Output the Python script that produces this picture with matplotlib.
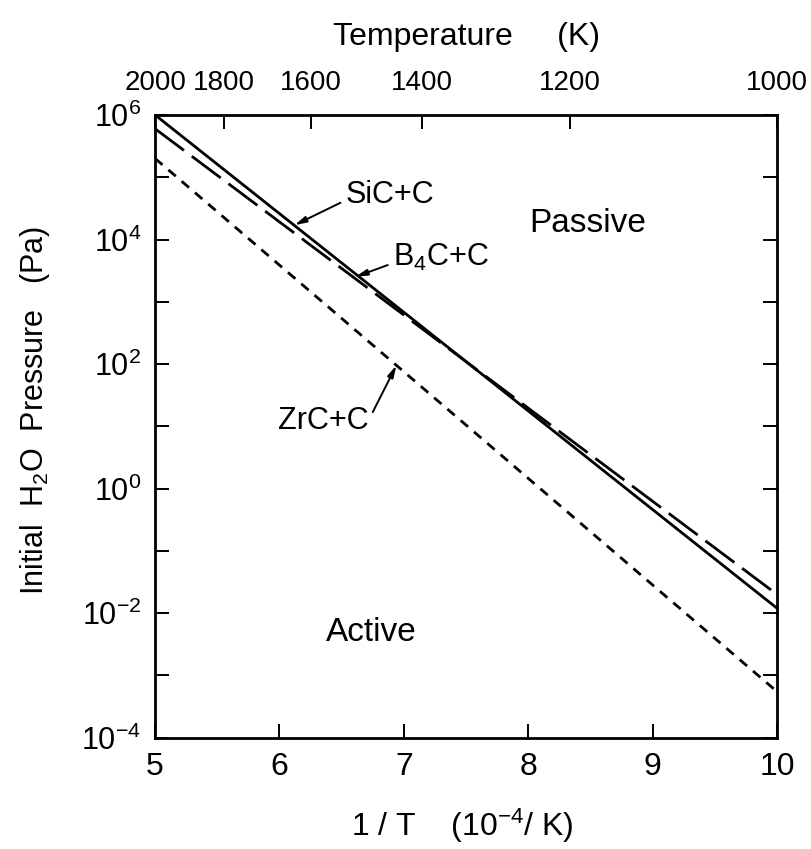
import matplotlib
matplotlib.use("Agg")
import matplotlib.pyplot as plt
import numpy as np

# ---- data ----
inv_T = [5.0, 10.0]                 # 1/T (1e-4 / K)
sic_c = [1.0e6, 1.2e-2]             # SiC+C
b4c_c = [6.0e5, 2.0e-2]             # B4C+C
zrc_c = [2.0e5, 5.5e-4]             # ZrC+C
temp_ticks = [2000, 1800, 1600, 1400, 1200, 1000]
x_ticks = [5, 6, 7, 8, 9, 10]
y_label_exps = [6, 4, 2, 0, -2, -4]

FONT = 'Liberation Sans'
plt.rcParams['font.family'] = [FONT, 'DejaVu Sans']
plt.rcParams['mathtext.fontset'] = 'custom'
plt.rcParams['mathtext.rm'] = FONT
plt.rcParams['mathtext.it'] = FONT
plt.rcParams['mathtext.default'] = 'regular'

fig = plt.figure(figsize=(8.12, 8.49), dpi=100)
ax = fig.add_axes([0.191, 0.131, 0.766, 0.7336])

ax.plot(inv_T, sic_c, color='k', lw=2.0, ls='-')
ax.plot(inv_T, b4c_c, color='k', lw=2.0, ls=(0, (13, 3.5)))
ax.plot(inv_T, zrc_c, color='k', lw=2.0, ls=(0, (3.5, 2.8)))

ax.set_yscale('log')
ax.set_xlim(5, 10)
ax.set_ylim(1e-4, 1e6)

ax.set_xticks(x_ticks)
ax.set_xticklabels([str(v) for v in x_ticks])
ax.set_yticks([10.0**e for e in range(-4, 7)])
ax.set_yticklabels([(r'$10^{%d}$' % e if e in y_label_exps else '') for e in range(-4, 7)])
ax.yaxis.set_minor_locator(matplotlib.ticker.NullLocator())

ax.tick_params(axis='x', which='major', direction='in', length=10, width=1.4,
               labelsize=23, top=False, pad=10)
ax.tick_params(axis='y', which='major', direction='in', length=10, width=1.4,
               labelsize=22, right=True, pad=10)
for s in ax.spines.values():
    s.set_linewidth(2.0)

ax.set_xlabel(r'1 / T    (10$^{-4}$/ K)', fontsize=23)
ax.xaxis.set_label_coords(0.494, -0.11)
ax.set_ylabel(r'Initial  H$_2$O  Pressure   (Pa)', fontsize=22)
ax.yaxis.set_label_coords(-0.165, 0.525)

# top axis: temperature
ax2 = ax.twiny()
ax2.set_xlim(ax.get_xlim())
ax2.set_xticks([1e4 / t for t in temp_ticks])
ax2.set_xticklabels([str(t) for t in temp_ticks])
ax2.tick_params(axis='x', direction='in', length=10, width=1.4, labelsize=20, pad=14)
ax2.set_xlabel('Temperature     (K)', fontsize=23, labelpad=18)

arrow = dict(arrowstyle='-|>,head_width=0.18,head_length=0.7', color='k', lw=1.4,
             shrinkA=0, shrinkB=0)
ax.annotate('', xy=(6.12, 10**4.23), xytext=(6.49, 10**4.59), arrowprops=arrow)
ax.text(6.53, 10**4.72, 'SiC+C', fontsize=22, ha='left', va='center')

ax.annotate('', xy=(6.61, 10**3.40), xytext=(6.87, 10**3.59), arrowprops=arrow)
ax.text(6.91, 10**3.72, r'B$_4$C+C', fontsize=22, ha='left', va='center')

ax.annotate('', xy=(6.94, 10**1.98), xytext=(6.75, 10**1.23), arrowprops=arrow)
ax.text(5.99, 10**1.09, 'ZrC+C', fontsize=22, ha='left', va='center')

ax.text(8.48, 10**4.26, 'Passive', fontsize=24, ha='center', va='center')
ax.text(6.74, 10**-2.31, 'Active', fontsize=24, ha='center', va='center')

fig.savefig('out.png', dpi=100)
